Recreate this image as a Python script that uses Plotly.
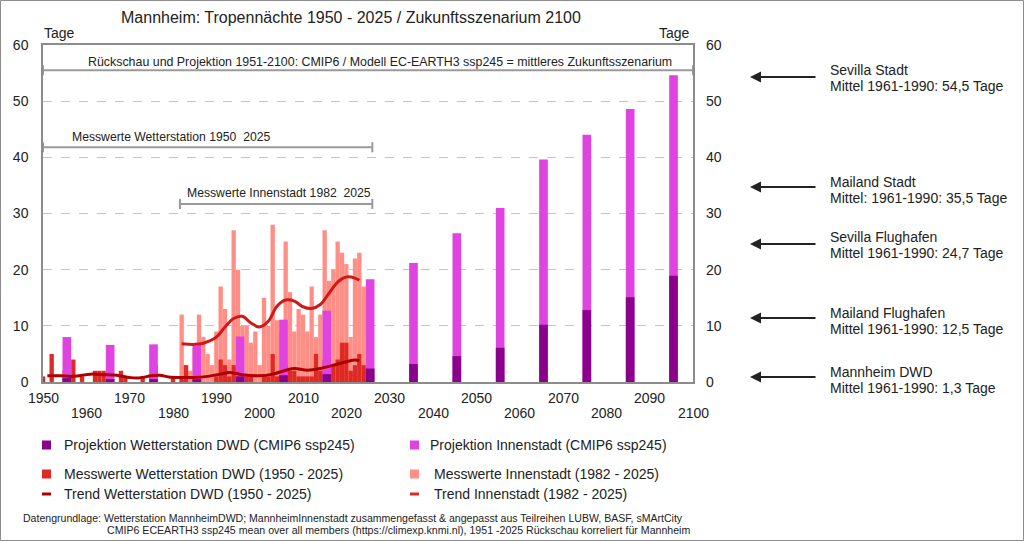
import plotly.graph_objects as go

# -----------------------
# DATA
# -----------------------
# measured tropical nights, weather station DWD (1950 - 2025)
dwd_years = list(range(1950, 2026))
dwd_nights = [1, 0, 5, 0, 0, 2, 1, 4, 0, 1,
              0, 0, 2, 2, 2, 1, 0, 0, 2, 1,
              0, 0, 0, 1, 0, 1, 3, 0, 0, 0,
              1, 0, 1, 3, 0, 1, 1, 0, 0, 0,
              1, 4, 3, 1, 3, 2, 0, 1, 1, 0,
              0, 1, 1, 5, 1, 1, 3, 2, 2, 1,
              1, 1, 1, 5, 2, 4, 2, 3, 4, 7,
              7, 2, 3, 5, 3, 2]

# measured tropical nights, city centre (1982 - 2025)
city_years = list(range(1982, 2026))
city_nights = [12, 3, 2, 6, 12, 8, 5, 3, 9, 17,
               13, 4, 27, 20, 10, 10, 7, 9, 3, 15,
               10, 28, 11, 9, 25, 16, 9, 13, 12, 9,
               17, 8, 12, 27, 18, 20, 25, 23, 21, 8,
               22, 23, 17, 15]

# CMIP6 ssp245 decade means
proj_years = [1955.5, 1965.5, 1975.5, 1985.5, 1995.5, 2005.5, 2015.5, 2025.5,
              2035.5, 2045.5, 2055.5, 2065.5, 2075.5, 2085.5, 2095.5]
proj_city = [8.0, 6.6, 6.7, 6.5, 8.1, 11.1, 12.7, 18.3,
             21.2, 26.5, 31.0, 39.6, 44.0, 48.6, 54.6]
proj_dwd = [0.7, 0.5, 0.5, 0.5, 1.0, 1.2, 1.4, 2.4,
            3.2, 4.6, 6.1, 10.2, 12.8, 15.1, 18.9]

# trends
trend_dwd_years = [1951, 1954, 1957, 1961, 1964, 1967, 1970, 1972, 1975, 1977,
                   1979, 1982, 1985, 1988, 1991, 1993, 1996, 2000, 2003, 2006,
                   2008, 2011, 2014, 2017, 2020, 2022, 2023]
trend_dwd = [1.1, 1.1, 1.0, 1.4, 1.3, 1.2, 0.8, 0.7, 1.1, 1.2,
             0.9, 0.8, 0.8, 1.0, 1.4, 1.7, 1.3, 1.1, 1.4, 2.1,
             2.4, 2.1, 2.4, 3.0, 3.6, 3.9, 3.8]

trend_city_years = [1982, 1985, 1987, 1990, 1992, 1994, 1996, 1998, 2000, 2002,
                    2004, 2006, 2008, 2010, 2012, 2014, 2016, 2018, 2020, 2022, 2023]
trend_city = [6.8, 6.7, 6.9, 8.0, 9.8, 11.3, 11.7, 10.5, 9.8, 10.8,
              13.5, 14.6, 14.4, 13.4, 13.1, 13.8, 15.8, 17.8, 18.7, 18.5, 18.1]

decade_ticks = list(range(1950, 2101, 10))
y_ticks = [0, 10, 20, 30, 40, 50, 60]

ref_names = ["Sevilla Stadt", "Mailand Stadt", "Sevilla Flughafen",
             "Mailand Flughafen", "Mannheim DWD"]
ref_texts = ["Mittel 1961-1990: 54,5 Tage", "Mittel: 1961-1990: 35,5 Tage",
             "Mittel 1961-1990: 24,7 Tage", "Mittel 1961-1990: 12,5 Tage",
             "Mittel 1961-1990: 1,3 Tage"]

# -----------------------
# COLOURS / GEOMETRY
# -----------------------
C_PROJ_DWD = "#8B008B"
C_PROJ_CITY = "#E044E0"
C_DWD = "#DE2A25"
C_CITY = "#FF8F86"
C_TREND_DWD = "#AE0000"
C_TREND_CITY = "#D01818"
GREY = "#8c8c8c"
TXT = "#222222"
FONT = "Liberation Sans, Arial, sans-serif"

W, H = 1024, 541
L, R, T, B = 43, 331, 45, 159
PW, PH = W - L - R, H - T - B


def px(x):
    return (x - L) / PW


def py(y):
    return (H - B - y) / PH


# -----------------------
# TRACES
# -----------------------
fig = go.Figure()

fig.add_trace(go.Bar(x=city_years, y=city_nights, width=1,
                     marker=dict(color=C_CITY, line_width=0),
                     name="Messwerte Innenstadt (1982 - 2025)"))
fig.add_trace(go.Bar(x=dwd_years, y=dwd_nights, width=1,
                     marker=dict(color=C_DWD, line_width=0),
                     name="Messwerte Wetterstation DWD (1950 - 2025)"))
fig.add_trace(go.Bar(x=proj_years, y=proj_city, width=2,
                     marker=dict(color=C_PROJ_CITY, line_width=0),
                     name="Projektion Innenstadt (CMIP6 ssp245)"))
fig.add_trace(go.Bar(x=proj_years, y=proj_dwd, width=2,
                     marker=dict(color=C_PROJ_DWD, line_width=0),
                     name="Projektion Wetterstation DWD (CMIP6 ssp245)"))
fig.add_trace(go.Scatter(x=trend_dwd_years, y=trend_dwd, mode="lines", yaxis="y2",
                         line=dict(color=C_TREND_DWD, width=3, shape="spline"),
                         name="Trend Wetterstation DWD (1950 - 2025)"))
fig.add_trace(go.Scatter(x=trend_city_years, y=trend_city, mode="lines", yaxis="y2",
                         line=dict(color=C_TREND_CITY, width=3, shape="spline"),
                         name="Trend Innenstadt (1982 - 2025)"))

# -----------------------
# SHAPES & ANNOTATIONS
# -----------------------
shapes = []
annotations = []


def text(x, y, s, size=14, xanchor="left", xref="paper", yref="paper"):
    annotations.append(dict(x=x, y=y, xref=xref, yref=yref, text=s, showarrow=False,
                            xanchor=xanchor, yanchor="middle",
                            font=dict(size=size, color=TXT, family=FONT)))


def bracket(x0, x1, y, cap=0.9):
    line = dict(color="#9a9a9a", width=2)
    shapes.append(dict(type="line", xref="x", yref="y", x0=x0, x1=x1, y0=y, y1=y, line=line))
    for xx in (x0, x1):
        shapes.append(dict(type="line", xref="x", yref="y", x0=xx, x1=xx,
                           y0=y - cap, y1=y + cap, line=line))


# outer frame of the picture
shapes.append(dict(type="rect", xref="paper", yref="paper", x0=px(0.5), x1=px(W - 0.5),
                   y0=py(H - 0.5), y1=py(0.5), line=dict(color=GREY, width=1)))

# title and axis units
text(px(351), py(17), "Mannheim: Tropennächte 1950 - 2025 / Zukunftsszenarium 2100",
     size=16, xanchor="center")
text(px(42), py(33), "Tage", size=14)
text(px(692), py(33), "Tage", size=14, xanchor="right")

# brackets
bracket(1950, 2100, 55.5)
text(px(380), py(62),
     "Rückschau und Projektion 1951-2100: CMIP6 / Modell EC-EARTH3 ssp245 = mittleres Zukunftsszenarium",
     size=12.4, xanchor="center")
bracket(1950, 2026, 41.8)
text(px(70), py(137), "Messwerte Wetterstation 1950\u00a0 2025", size=12.2)
bracket(1981.6, 2026, 31.7)
text(px(185), py(193), "Messwerte Innenstadt 1982\u00a0 2025", size=12.2)

# staggered x tick labels
for i, yr in enumerate(decade_ticks):
    row_y = 398 if i % 2 == 0 else 413
    annotations.append(dict(x=yr, y=py(row_y), xref="x", yref="paper", text=str(yr),
                            showarrow=False, xanchor="center", yanchor="middle",
                            font=dict(size=14, color=TXT, family=FONT)))

# reference cities on the right
arrow_y = [77, 187, 244, 318, 377]
line1_dy = [-7, -5, -7, -5, -5]
line2_dy = [9, 11, 9, 11, 11]
for name, sub, ay, d1, d2 in zip(ref_names, ref_texts, arrow_y, line1_dy, line2_dy):
    annotations.append(dict(x=px(750), y=py(ay), xref="paper", yref="paper", text="",
                            showarrow=True, ax=67, ay=0, arrowhead=2, arrowsize=1.1,
                            arrowwidth=2, arrowcolor="#222222"))
    text(px(828), py(ay + d1), name, size=14)
    text(px(828), py(ay + d2), sub, size=14)

# manual legend
legend_rows = [
    (445, "box", C_PROJ_DWD, "Projektion Wetterstation DWD (CMIP6 ssp245)",
     C_PROJ_CITY, "Projektion Innenstadt (CMIP6 ssp245)", 428),
    (474, "box", C_DWD, "Messwerte Wetterstation DWD (1950 - 2025)",
     C_CITY, "Messwerte Innenstadt (1982 - 2025)", 432),
    (494, "line", C_TREND_DWD, "Trend Wetterstation DWD (1950 - 2025)",
     C_DWD, "Trend Innenstadt (1982 - 2025)", 432),
]
for ly, kind, c1, t1, c2, t2, tx2 in legend_rows:
    for sx, col in ((42, c1), (410, c2)):
        half = 4.5 if kind == "box" else 1.5
        shapes.append(dict(type="rect", xref="paper", yref="paper",
                           x0=px(sx), x1=px(sx + 9), y0=py(ly + half), y1=py(ly - half),
                           fillcolor=col, line_width=0))
    text(px(62), py(ly), t1, size=14)
    text(px(tx2), py(ly), t2, size=14)

# source notes
text(px(21), py(518),
     "Datengrundlage: Wetterstation MannheimDWD; MannheimInnenstadt zusammengefasst &amp; "
     "angepasst aus Teilreihen LUBW, BASF, sMArtCity", size=10.55)
text(px(105), py(530),
     "CMIP6 ECEARTH3 ssp245 mean over all members (https://climexp.knmi.nl), "
     "1951 -2025 Rückschau korreliert für Mannheim", size=10.6)

# -----------------------
# LAYOUT
# -----------------------
axis_font = dict(size=14, color=TXT, family=FONT)
fig.update_layout(
    width=W, height=H,
    margin=dict(l=L, r=R, t=T, b=B, pad=0),
    paper_bgcolor="white", plot_bgcolor="white",
    barmode="overlay",
    showlegend=False,
    font=dict(family=FONT, color=TXT),
    shapes=shapes,
    annotations=annotations,
    xaxis=dict(range=[1950, 2100], showgrid=False, showticklabels=False, ticks="",
               zeroline=False, showline=True, mirror=True, linecolor=GREY, linewidth=1.5),
    yaxis=dict(range=[0, 60], tickvals=y_ticks, showgrid=True, gridcolor="#c4c4c4",
               griddash="dash", gridwidth=1, zeroline=False, showline=True, mirror=True,
               linecolor=GREY, linewidth=1.5, ticks="", tickfont=axis_font,
               ticklabelstandoff=10),
    yaxis2=dict(range=[0, 60], tickvals=y_ticks, overlaying="y", side="right",
                showgrid=False, zeroline=False, showline=False, ticks="",
                tickfont=axis_font, ticklabelstandoff=12),
)

# page body has a default margin; drop it so the figure sits at the window corner
fig.write_html("out.html", config={"displayModeBar": False},
               post_script="document.body.style.margin='0px';")
